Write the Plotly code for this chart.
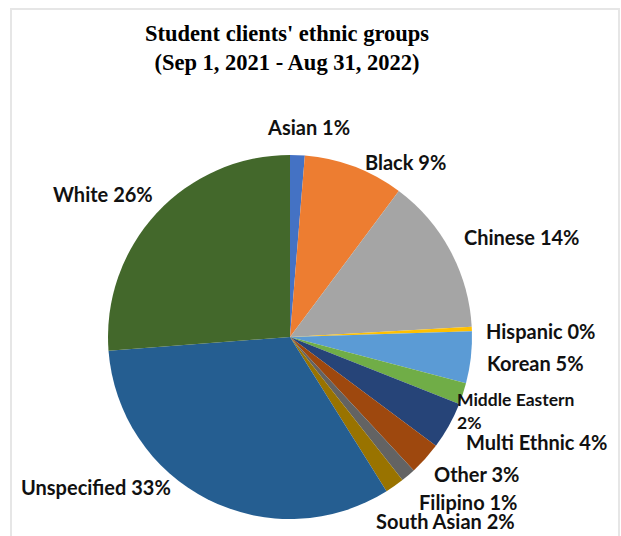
import plotly.graph_objects as go

# ---- data ----
groups = ["Asian", "Black", "Chinese", "Hispanic", "Korean", "Middle Eastern",
          "Multi Ethnic", "Other", "Filipino", "South Asian", "Unspecified", "White"]
shares = [1.3, 8.9, 13.9, 0.4, 4.6, 1.9, 4.2, 2.9, 1.3, 1.7, 32.7, 26.2]

# ---- styles ----
colors = ["#4472C4", "#ED7D31", "#A5A5A5", "#FFC000", "#5B9BD5", "#70AD47",
          "#264478", "#9E480E", "#636363", "#997300", "#255E91", "#43682B"]
# label centers in pixels (x, y from top)
label_pos = [(308, 127), (405, 162), (521, 237), (541, 331), (535, 363), (515, 411),
             (536, 442), (476, 474), (468, 502), (445, 521), (96, 487), (103, 194)]
label_size = [20, 20, 20, 20, 20, 17.5, 20, 20, 20, 20, 20, 20]

W, H = 621, 536
cx, cy, r = 290, 337, 182

fig = go.Figure(go.Pie(
    labels=groups, values=shares, sort=False, direction="clockwise", rotation=0,
    marker=dict(colors=colors, line=dict(width=0)),
    textinfo="none", hoverinfo="label+percent", showlegend=False,
    domain=dict(x=[(cx - r) / W, (cx + r) / W], y=[1 - (cy + r) / H, 1 - (cy - r) / H]),
))

total = sum(shares)
annotations = []
for g, v, (px, py), fs in zip(groups, shares, label_pos, label_size):
    pct = f"{round(v / total * 100):d}%"
    txt = f"{g}<br>{pct}" if g == "Middle Eastern" else f"{g} {pct}"
    annotations.append(dict(
        x=px / W, y=1 - py / H, xref="paper", yref="paper", text=txt, showarrow=False,
        xanchor="center", yanchor="middle", align="left",
        font=dict(family="Lato", size=fs, color="#111111", weight="bold")))

annotations.append(dict(
    x=287 / W, y=1 - 47.5 / H, xref="paper", yref="paper", showarrow=False,
    text="Student clients' ethnic groups<br>(Sep 1, 2021 - Aug 31, 2022)",
    xanchor="center", yanchor="middle",
    font=dict(family="Liberation Serif", size=22.5, color="#000000", weight="bold")))

fig.update_layout(
    width=W, height=H, margin=dict(l=0, r=0, t=0, b=0),
    paper_bgcolor="white", plot_bgcolor="white",
    annotations=annotations,
    shapes=[dict(type="rect", xref="paper", yref="paper",
                 x0=11 / W, x1=619 / W, y0=-0.05, y1=1 - 9 / H,
                 line=dict(color="#e6e6e6", width=2))],
)

fig.write_html("out.html", config={"displayModeBar": False},
               post_script="document.body.style.margin='0';document.body.style.overflow='hidden';")
